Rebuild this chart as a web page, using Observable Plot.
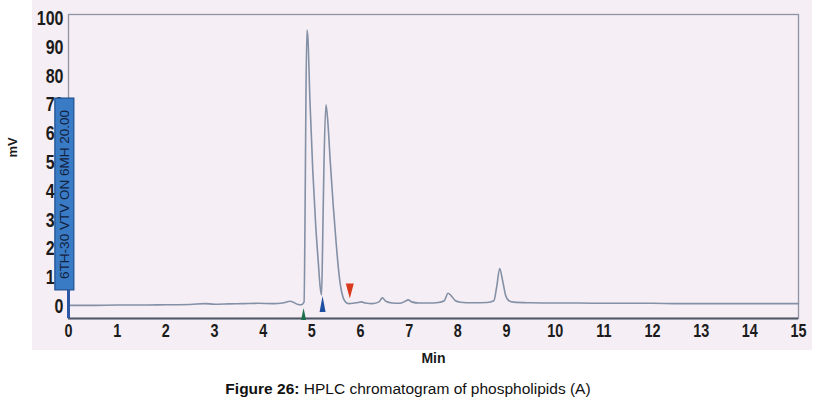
<!DOCTYPE html>
<html>
<head>
<meta charset="utf-8">
<script src="https://cdn.jsdelivr.net/npm/d3@7"></script>
<script src="https://cdn.jsdelivr.net/npm/@observablehq/plot@0.6"></script>
<style>
  html, body { margin: 0; padding: 0; background: #fff; }
  #chart { width: 820px; }
  #caption { font-family: "Liberation Sans", Arial, sans-serif; font-size: 15.5px; text-align: center; color: #111; margin-top: 8px; line-height: 17px; padding-right: 4px; }
</style>
</head>
<body>
<div id="chart"></div>
<div id="caption"><b>Figure 26:</b> HPLC chromatogram of phospholipids (A)</div>
<script>
// Chromatogram trace (retention time in min, detector signal in mV)
const times = [0, 0.5, 1, 1.5, 2, 2.5, 2.8, 3.0, 3.3, 3.6, 3.9, 4.2, 4.4, 4.55, 4.62, 4.7, 4.78, 4.84,
  4.86, 4.88, 4.90, 4.92, 4.96, 5.02, 5.08, 5.13, 5.17, 5.20, 5.22, 5.25, 5.29, 5.32, 5.38, 5.44, 5.50,
  5.56, 5.62, 5.68, 5.75, 5.85, 5.95, 6.02, 6.1, 6.25, 6.38, 6.45, 6.52, 6.65, 6.8, 6.92, 6.98, 7.05,
  7.2, 7.4, 7.6, 7.72, 7.80, 7.86, 7.95, 8.05, 8.3, 8.6, 8.74, 8.80, 8.86, 8.92, 8.98, 9.05, 9.15,
  9.5, 10, 10.5, 11, 11.5, 12, 12.5, 13, 13.5, 14, 14.5, 15];
const mV = [0.4, 0.4, 0.5, 0.5, 0.6, 0.7, 1.0, 0.8, 0.9, 1.0, 1.1, 1.0, 1.2, 1.8, 1.5, 0.8, 0.6, 1.5,
  30, 75, 96, 93, 72, 47, 28, 16, 7, 4, 20, 50, 70, 66, 50, 35, 22,
  11, 4.5, 1.8, 1.0, 1.1, 1.4, 1.6, 1.2, 1.0, 1.6, 3.0, 1.8, 1.2, 1.1, 1.8, 2.3, 1.6,
  1.2, 1.2, 1.4, 2.0, 4.6, 3.8, 2.0, 1.5, 1.3, 1.4, 2.0, 7, 13.2, 9, 4, 2, 1.5,
  1.3, 1.2, 1.2, 1.1, 1.1, 1.1, 1.0, 1.0, 1.0, 1.0, 1.0, 1.0];

// Axis ticks
const xTicks = [0, 1, 2, 3, 4, 5, 6, 7, 8, 9, 10, 11, 12, 13, 14, 15];
const yTicks = [0, 10, 20, 30, 40, 50, 60, 70, 80, 90, 100];
const xDomain = [0, 15];
const yDomain = [-4.17, 101.4];

// Integration markers (time, level)
const markerTimes = [4.83, 5.22, 5.78];
const markerLevels = [-2.6, 0.9, 5.4];
const markerKinds = ["start", "valley", "end"];

// Method label box (time extent, mV extent)
const boxTimes = [-0.27, 0.12];
const boxLevels = [5.6, 72.2];
const boxText = "6TH-30 VTV ON 6MH 20.00";

const trace = times.map((t, i) => ({t, v: mV[i]}));
const markers = markerTimes.map((t, i) => ({t, v: markerLevels[i], kind: markerKinds[i]}));

function tri(down, w, h) {
  return {draw(ctx) {
    const s = down ? -1 : 1;
    ctx.moveTo(0, -s * h / 2);
    ctx.lineTo(w / 2, s * h / 2);
    ctx.lineTo(-w / 2, s * h / 2);
    ctx.closePath();
  }};
}
const markerColor = {start: "#1f6e4c", valley: "#1f4f9f", end: "#d9391d"};
const markerShape = {start: tri(false, 5, 12), valley: tri(false, 6, 16), end: tri(true, 8, 15)};

const sans = '"Liberation Sans", Arial, sans-serif';

const plot = Plot.plot({
  width: 820,
  height: 372,
  marginLeft: 68,
  marginRight: 22,
  marginTop: 14,
  marginBottom: 54,
  style: {
    backgroundColor: "#ffffff",
    backgroundImage: "linear-gradient(#f5eef4, #f5eef4)",
    backgroundSize: "780px 350px",
    backgroundPosition: "32px 0px",
    backgroundRepeat: "no-repeat",
    fontFamily: sans,
    fontWeight: "bold",
    color: "#1b1b1b",
    overflow: "visible"
  },
  x: {domain: xDomain},
  y: {domain: yDomain},
  marks: [
    Plot.frame({stroke: "#8e94a4", strokeWidth: 1.3}),
    Plot.ruleY([yDomain[0]], {stroke: "#4f5668", strokeWidth: 2.2}),
    Plot.axisX(xTicks, {tickSize: 0, tickPadding: 6, fontSize: 18, label: null}),
    Plot.axisY(yTicks, {tickSize: 0, tickPadding: 5, fontSize: 20, label: null}),
    Plot.text(["Min"], {frameAnchor: "bottom", dy: 44, fontSize: 14}),
    Plot.text(["mV"], {frameAnchor: "left", dx: -56, dy: -9, rotate: -90, fontSize: 13}),
    Plot.line(trace, {x: "t", y: "v", stroke: "#8390a6", strokeWidth: 1.6, curve: "monotone-x"}),
    Plot.rect([{}], {x1: () => boxTimes[0], x2: () => boxTimes[1], y1: () => boxLevels[0], y2: () => boxLevels[1], fill: "#3a7bc6", stroke: "#1d4e8f", strokeWidth: 1.2}),
    Plot.ruleX([xDomain[0]], {y1: yDomain[0], y2: boxLevels[0], stroke: "#2a58a6", strokeWidth: 3}),
    Plot.text([boxText], {x: () => (boxTimes[0] + boxTimes[1]) / 2, y: () => (boxLevels[0] + boxLevels[1]) / 2, rotate: -90, fontSize: 13.5, fill: "#13223f", fontWeight: "normal"}),
    ...markerKinds.map(k => Plot.dot(markers.filter(d => d.kind === k), {x: "t", y: "v", symbol: markerShape[k], fill: markerColor[k], stroke: "none", r: 5}))
  ]
});
// condense tick label glyphs horizontally, like the narrow bold face of the original
d3.select(plot).selectAll('g[aria-label="x-axis tick label"] text, g[aria-label="y-axis tick label"] text')
  .each(function () {
    const t = this.getAttribute("transform") || "";
    this.setAttribute("transform", t + " scale(0.8,1)");
  });
document.getElementById("chart").appendChild(plot);
</script>
</body>
</html>
